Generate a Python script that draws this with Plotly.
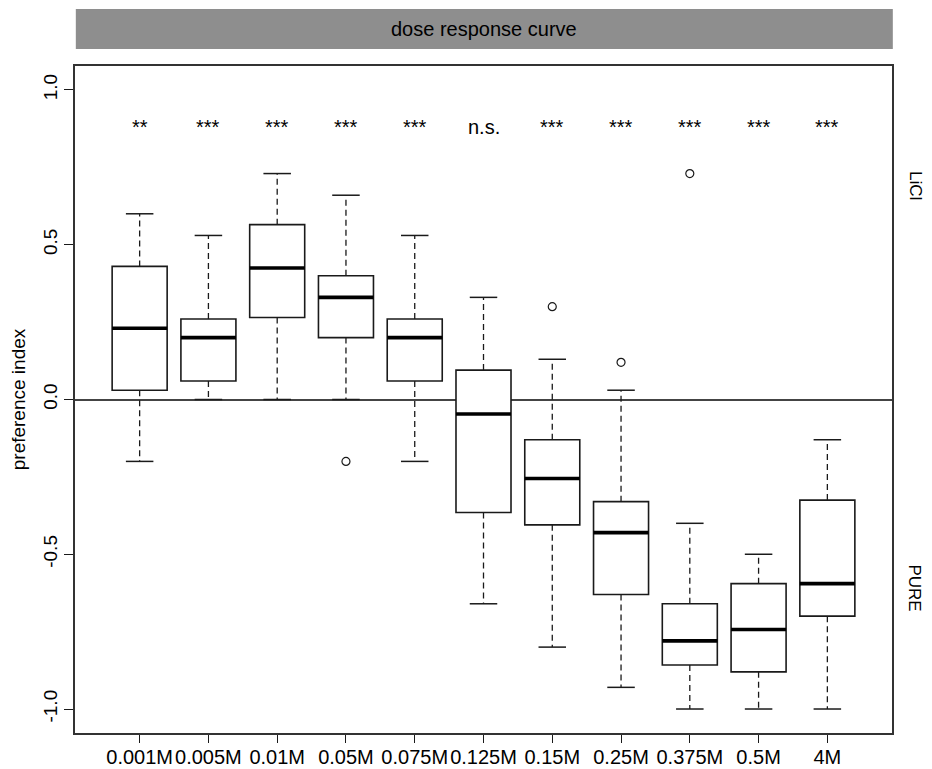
import plotly.graph_objects as go

# ---- data ----
doses = ["0.001M", "0.005M", "0.01M", "0.05M", "0.075M", "0.125M",
         "0.15M", "0.25M", "0.375M", "0.5M", "4M"]
upper_whisker = [0.60, 0.53, 0.73, 0.66, 0.53, 0.33, 0.13, 0.03, -0.40, -0.50, -0.13]
q3_values     = [0.43, 0.26, 0.565, 0.40, 0.26, 0.095, -0.13, -0.33, -0.66, -0.595, -0.325]
medians       = [0.23, 0.20, 0.425, 0.33, 0.20, -0.047, -0.255, -0.43, -0.78, -0.743, -0.595]
q1_values     = [0.03, 0.06, 0.265, 0.20, 0.06, -0.365, -0.405, -0.63, -0.858, -0.88, -0.70]
lower_whisker = [-0.20, 0.00, 0.00, 0.00, -0.20, -0.66, -0.80, -0.93, -1.00, -1.00, -1.00]
outlier_group = [4, 7, 8, 9]
outlier_value = [-0.20, 0.30, 0.12, 0.73]
significance  = ["**", "***", "***", "***", "***", "n.s.", "***", "***", "***", "***", "***"]
sig_level = 0.88
y_ticks = [-1.0, -0.5, 0.0, 0.5, 1.0]
y_ticktext = ["-1.0", "-0.5", "0.0", "0.5", "1.0"]
strip_title = "dose response curve"
side_labels = ["LiCl", "PURE"]
side_label_y = [0.69, -0.61]

FONT = "Liberation Sans, Arial, Helvetica, sans-serif"
INK = "#1a1a1a"
pos = list(range(1, len(doses) + 1))
half_box = 0.4
half_cap = 0.2

fig = go.Figure()

# boxes (whiskers drawn separately, dashed as in R)
fig.add_trace(go.Box(
    x=pos, q1=q1_values, median=medians, q3=q3_values,
    lowerfence=q1_values, upperfence=q3_values,
    width=2 * half_box, fillcolor="white",
    line=dict(color=INK, width=1.6), whiskerwidth=0,
    boxpoints=False, showlegend=False, hoverinfo="skip",
))

# dashed whiskers
wx, wy = [], []
for p, lo, q1, q3, hi in zip(pos, lower_whisker, q1_values, q3_values, upper_whisker):
    wx += [p, p, None, p, p, None]
    wy += [q3, hi, None, q1, lo, None]
fig.add_trace(go.Scatter(x=wx, y=wy, mode="lines",
                         line=dict(color=INK, width=1.3, dash="6px,4px"),
                         showlegend=False, hoverinfo="skip"))

# whisker caps
cx, cy = [], []
for p, lo, hi in zip(pos, lower_whisker, upper_whisker):
    cx += [p - half_cap, p + half_cap, None, p - half_cap, p + half_cap, None]
    cy += [hi, hi, None, lo, lo, None]
fig.add_trace(go.Scatter(x=cx, y=cy, mode="lines",
                         line=dict(color=INK, width=1.5),
                         showlegend=False, hoverinfo="skip"))

# thick medians
mx, my = [], []
for p, m in zip(pos, medians):
    mx += [p - half_box, p + half_box, None]
    my += [m, m, None]
fig.add_trace(go.Scatter(x=mx, y=my, mode="lines",
                         line=dict(color="black", width=3.6),
                         showlegend=False, hoverinfo="skip"))

# outliers
fig.add_trace(go.Scatter(x=outlier_group, y=outlier_value, mode="markers",
                         marker=dict(symbol="circle-open", size=8,
                                     color=INK, line=dict(width=1.2)),
                         showlegend=False, hoverinfo="skip"))

# significance labels
for p, s in zip(pos, significance):
    fig.add_annotation(x=p, y=sig_level, xref="x", yref="y", text=s,
                       xanchor="center", yanchor="middle",
                       showarrow=False, font=dict(family=FONT, size=20, color="black"))

# side labels
for lab, yy in zip(side_labels, side_label_y):
    fig.add_annotation(x=1.028, y=yy, xref="paper", yref="y", text=lab,
                       xanchor="center", yanchor="middle",
                       textangle=90, showarrow=False,
                       font=dict(family=FONT, size=17, color="black"))

# strip header
fig.add_shape(type="rect", xref="paper", yref="paper",
              x0=0.001, x1=1.001, y0=1.0255, y1=1.0855,
              fillcolor="#8e8e8e", line=dict(width=0), layer="above")
fig.add_annotation(x=0.5, y=1.0555, xref="paper", yref="paper", text=strip_title,
                   xanchor="center", yanchor="middle",
                   showarrow=False, font=dict(family=FONT, size=20, color="black"))

# page body adds an 8px offset, so the figure is 8px smaller with margins shifted
fig.update_layout(
    width=924, height=761, autosize=False,
    margin=dict(l=67, r=40, t=58, b=36, autoexpand=False),
    paper_bgcolor="white", plot_bgcolor="white",
    font=dict(family=FONT, color="black"),
    showlegend=False,
    xaxis=dict(range=[0.06, 11.94], tickmode="array", tickvals=pos, ticktext=doses,
               tickangle=0, ticks="outside", ticklen=8, tickwidth=1.3, tickcolor=INK,
               automargin=False, ticklabelstandoff=-3,
               showgrid=False, zeroline=False, showline=True, mirror=True,
               linecolor="#333333", linewidth=1.5,
               tickfont=dict(family=FONT, size=20, color="black")),
    yaxis=dict(range=[-1.0775, 1.0775], tickmode="array", tickvals=y_ticks,
               ticktext=y_ticktext, tickangle=-90, ticks="outside", ticklen=9,
               tickwidth=1.3, tickcolor=INK, showgrid=False, automargin=False,
               zeroline=True, zerolinecolor="#444444", zerolinewidth=1.5,
               showline=True, mirror=True, linecolor="#333333", linewidth=1.5,
               tickfont=dict(family=FONT, size=19, color="black"),
               title=dict(text="preference index", standoff=10,
                          font=dict(family=FONT, size=19, color="black"))),
)

fig.write_html("out.html")
